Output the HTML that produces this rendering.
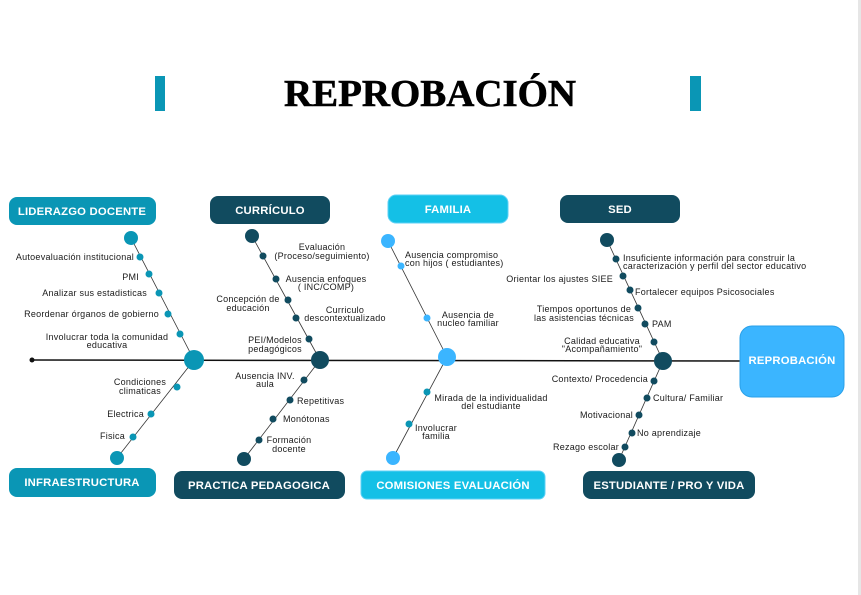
<!DOCTYPE html>
<html><head><meta charset="utf-8"><style>
html,body{margin:0;padding:0;background:#fff;}
svg{display:block;font-family:"Liberation Sans",sans-serif;}
.l{font-size:9px;letter-spacing:0.25px;fill:#1a1a1a;}
.h{font-size:11.3px;font-weight:bold;fill:#fff;letter-spacing:0.2px;}
</style></head><body>
<svg width="861" height="595" viewBox="0 0 861 595" xmlns="http://www.w3.org/2000/svg">
<rect x="858" y="0" width="3" height="595" fill="#e6e6e6"/>
<rect x="155" y="76" width="10" height="35" fill="#0a96b5"/>
<rect x="690" y="76" width="11" height="35" fill="#0a96b5"/>
<text x="430" y="106" text-anchor="middle" font-family="Liberation Serif,serif" font-weight="bold" font-size="38" textLength="292" lengthAdjust="spacingAndGlyphs" fill="#000" stroke="#000" stroke-width="0.6">REPROBACIÓN</text>

<line x1="32" y1="360" x2="742" y2="361" stroke="#111" stroke-width="1.5"/>
<circle cx="32" cy="360" r="2.5" fill="#111"/>

<rect x="9" y="197" width="147" height="28" rx="8" fill="#0a96b5"/>
<text class="h" x="82" y="215" text-anchor="middle">LIDERAZGO DOCENTE</text>
<rect x="210" y="196" width="120" height="28" rx="8" fill="#114b5f"/>
<text class="h" x="270" y="214" text-anchor="middle">CURRÍCULO</text>
<rect x="388" y="195" width="120" height="28" rx="8" fill="#14c0e6" stroke="#5dd0f5" stroke-width="1"/>
<text class="h" x="448" y="213" text-anchor="middle">FAMILIA</text>
<rect x="560" y="195" width="120" height="28" rx="8" fill="#114b5f"/>
<text class="h" x="620" y="213" text-anchor="middle">SED</text>
<rect x="9" y="468" width="147" height="29" rx="8" fill="#0a96b5"/>
<text class="h" x="82" y="486" text-anchor="middle">INFRAESTRUCTURA</text>
<rect x="174" y="471" width="171" height="28" rx="8" fill="#114b5f"/>
<text class="h" x="259" y="489" text-anchor="middle">PRACTICA PEDAGOGICA</text>
<rect x="361" y="471" width="184" height="28" rx="6" fill="#14c0e6" stroke="#5dd0f5"/>
<text class="h" x="453" y="489" text-anchor="middle">COMISIONES EVALUACIÓN</text>
<rect x="583" y="471" width="172" height="28" rx="8" fill="#114b5f"/>
<text class="h" x="669" y="489" text-anchor="middle">ESTUDIANTE / PRO Y VIDA</text>
<rect x="740" y="326" width="104" height="71" rx="12" fill="#3bb5ff" stroke="#2aa0e8"/>
<text class="h" x="792" y="364" text-anchor="middle">REPROBACIÓN</text>

<g stroke="#333" stroke-width="0.8">
<line x1="131" y1="238" x2="194" y2="360"/><line x1="194" y1="360" x2="117" y2="458"/>
<line x1="252" y1="236" x2="320" y2="360"/><line x1="320" y1="360" x2="244" y2="459"/>
<line x1="388" y1="241" x2="447" y2="357"/><line x1="447" y1="357" x2="393" y2="458"/>
<line x1="607" y1="240" x2="663" y2="361"/><line x1="663" y1="361" x2="619" y2="460"/>
</g>

<g fill="#0a96b5">
<circle cx="131" cy="238" r="7"/><circle cx="194" cy="360" r="10"/><circle cx="117" cy="458" r="7"/>
<circle cx="140" cy="257" r="3.5"/><circle cx="149" cy="274" r="3.5"/><circle cx="159" cy="293" r="3.5"/><circle cx="168" cy="314" r="3.5"/><circle cx="180" cy="334" r="3.5"/>
<circle cx="177" cy="387" r="3.5"/><circle cx="151" cy="414" r="3.5"/><circle cx="133" cy="437" r="3.5"/>
</g>
<text class="l" x="134" y="260" text-anchor="end">Autoevaluación institucional</text>
<text class="l" x="139" y="280" text-anchor="end">PMI</text>
<text class="l" x="147" y="296" text-anchor="end">Analizar sus estadisticas</text>
<text class="l" x="159" y="317" text-anchor="end">Reordenar órganos de gobierno</text>
<text class="l" x="107" y="340" text-anchor="middle">Involucrar toda la comunidad</text>
<text class="l" x="107" y="348" text-anchor="middle">educativa</text>
<text class="l" x="140" y="385" text-anchor="middle">Condiciones</text>
<text class="l" x="140" y="394" text-anchor="middle">climaticas</text>
<text class="l" x="144" y="417" text-anchor="end">Electrica</text>
<text class="l" x="125" y="439" text-anchor="end">Fisica</text>

<g fill="#114b5f">
<circle cx="252" cy="236" r="7"/><circle cx="320" cy="360" r="9"/><circle cx="244" cy="459" r="7"/>
<circle cx="263" cy="256" r="3.5"/><circle cx="276" cy="279" r="3.5"/><circle cx="288" cy="300" r="3.5"/><circle cx="296" cy="318" r="3.5"/><circle cx="309" cy="339" r="3.5"/>
<circle cx="304" cy="380" r="3.5"/><circle cx="290" cy="400" r="3.5"/><circle cx="273" cy="419" r="3.5"/><circle cx="259" cy="440" r="3.5"/>
</g>
<text class="l" x="322" y="250" text-anchor="middle">Evaluación</text>
<text class="l" x="322" y="259" text-anchor="middle">(Proceso/seguimiento)</text>
<text class="l" x="326" y="282" text-anchor="middle">Ausencia enfoques</text>
<text class="l" x="326" y="290" text-anchor="middle">( INC/COMP)</text>
<text class="l" x="248" y="302" text-anchor="middle">Concepción de</text>
<text class="l" x="248" y="311" text-anchor="middle">educación</text>
<text class="l" x="345" y="313" text-anchor="middle">Curriculo</text>
<text class="l" x="345" y="321" text-anchor="middle">descontextualizado</text>
<text class="l" x="275" y="343" text-anchor="middle">PEI/Modelos</text>
<text class="l" x="275" y="352" text-anchor="middle">pedagógicos</text>
<text class="l" x="265" y="379" text-anchor="middle">Ausencia INV.</text>
<text class="l" x="265" y="387" text-anchor="middle">aula</text>
<text class="l" x="297" y="404">Repetitivas</text>
<text class="l" x="283" y="422">Monótonas</text>
<text class="l" x="289" y="443" text-anchor="middle">Formación</text>
<text class="l" x="289" y="452" text-anchor="middle">docente</text>

<g fill="#3bb5ff">
<circle cx="388" cy="241" r="7"/><circle cx="447" cy="357" r="9"/><circle cx="393" cy="458" r="7"/>
<circle cx="401" cy="266" r="3.5"/><circle cx="427" cy="318" r="3.5"/>
</g>
<g fill="#0a96b5"><circle cx="427" cy="392" r="3.5"/><circle cx="409" cy="424" r="3.5"/></g>
<text class="l" x="405" y="258">Ausencia  compromiso</text>
<text class="l" x="405" y="266">con hijos ( estudiantes)</text>
<text class="l" x="468" y="318" text-anchor="middle">Ausencia de</text>
<text class="l" x="468" y="326" text-anchor="middle">nucleo familiar</text>
<text class="l" x="491" y="401" text-anchor="middle">Mirada de la individualidad</text>
<text class="l" x="491" y="409" text-anchor="middle">del estudiante</text>
<text class="l" x="436" y="431" text-anchor="middle">Involucrar</text>
<text class="l" x="436" y="439" text-anchor="middle">familia</text>

<g fill="#114b5f">
<circle cx="607" cy="240" r="7"/><circle cx="663" cy="361" r="9"/><circle cx="619" cy="460" r="7"/>
<circle cx="616" cy="259" r="3.5"/><circle cx="623" cy="276" r="3.5"/><circle cx="630" cy="290" r="3.5"/><circle cx="638" cy="308" r="3.5"/><circle cx="645" cy="324" r="3.5"/><circle cx="654" cy="342" r="3.5"/>
<circle cx="654" cy="381" r="3.5"/><circle cx="647" cy="398" r="3.5"/><circle cx="639" cy="415" r="3.5"/><circle cx="632" cy="433" r="3.5"/><circle cx="625" cy="447" r="3.5"/>
</g>
<text class="l" x="623" y="261">Insuficiente información para construir la</text>
<text class="l" x="623" y="269">caracterización y perfil del sector educativo</text>
<text class="l" x="613" y="282" text-anchor="end">Orientar los ajustes SIEE</text>
<text class="l" x="635" y="295">Fortalecer equipos Psicosociales</text>
<text class="l" x="584" y="312" text-anchor="middle">Tiempos oportunos de</text>
<text class="l" x="584" y="321" text-anchor="middle">las asistencias técnicas</text>
<text class="l" x="652" y="327">PAM</text>
<text class="l" x="602" y="344" text-anchor="middle">Calidad educativa</text>
<text class="l" x="602" y="352" text-anchor="middle">"Acompañamiento"</text>
<text class="l" x="648" y="382" text-anchor="end">Contexto/ Procedencia</text>
<text class="l" x="653" y="401">Cultura/ Familiar</text>
<text class="l" x="633" y="418" text-anchor="end">Motivacional</text>
<text class="l" x="637" y="436">No aprendizaje</text>
<text class="l" x="619" y="450" text-anchor="end">Rezago escolar</text>
</svg>
</body></html>
